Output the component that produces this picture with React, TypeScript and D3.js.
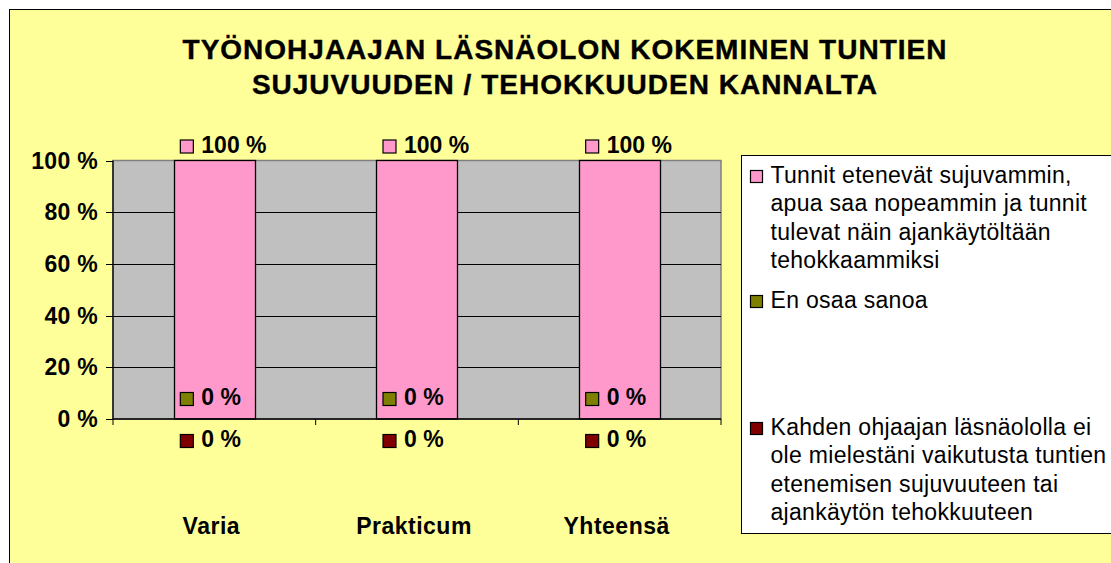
import * as d3 from "d3";

const categories = ["Varia", "Prakticum", "Yhteensä"];
const seriesNames = [
  "Tunnit etenevät sujuvammin, apua saa nopeammin ja tunnit tulevat näin ajankäytöltään tehokkaammiksi",
  "En osaa sanoa",
  "Kahden ohjaajan läsnäololla ei ole mielestäni vaikutusta tuntien etenemisen sujuvuuteen tai ajankäytön tehokkuuteen",
];
const sujuvammin = [100, 100, 100];
const enOsaa = [0, 0, 0];
const eiVaikutusta = [0, 0, 0];
const yTicks = [0, 20, 40, 60, 80, 100];
const titleLines = [
  "TYÖNOHJAAJAN LÄSNÄOLON KOKEMINEN TUNTIEN",
  "SUJUVUUDEN / TEHOKKUUDEN KANNALTA",
];
const legendLines = [
  ["Tunnit etenevät sujuvammin,", "apua saa nopeammin ja tunnit", "tulevat näin ajankäytöltään", "tehokkaammiksi"],
  ["En osaa sanoa"],
  ["Kahden ohjaajan läsnäololla ei", "ole mielestäni vaikutusta tuntien", "etenemisen sujuvuuteen tai", "ajankäytön tehokkuuteen"],
];
const colors = ["#FF99CC", "#808000", "#800000"];

const W = 1111;
const H = 563;
const plot = { left: 113, top: 160.5, right: 721, bottom: 419 };
const font = "Arial, 'Liberation Sans', sans-serif";

export default function App() {
  const x = d3.scaleBand<string>()
    .domain(categories)
    .range([plot.left, plot.right])
    .paddingInner(0)
    .paddingOuter(0);
  const barW = x.bandwidth() / 2.5;
  const y = d3.scaleLinear().domain([0, 100]).range([plot.bottom, plot.top]);
  const series = [sujuvammin, enOsaa, eiVaikutusta];
  const cx = (i: number) => x(categories[i])! + x.bandwidth() / 2;

  // label baseline per series: above the bar, inside at the base, below the axis
  const labelBase = (si: number, v: number) =>
    si === 0 ? y(v) - 8 : si === 1 ? y(v) - 14 : y(v) + 28;

  const legendY = [183, 308, 435];

  return (
    <div style={{ position: "absolute", left: 0, top: 0 }}>
      <svg width={W} height={H} style={{ display: "block" }} fontFamily={font}>
        <rect x={9.5} y={9.5} width={W + 10} height={H + 10} fill="#FFFF99" stroke="#000" />

        {titleLines.map((t, i) => (
          <text key={t} x={565} y={59 + i * 35} textAnchor="middle" fontSize={28} fontWeight="bold" letterSpacing={1}
            stroke="#000" strokeWidth={0.4}>
            {t}
          </text>
        ))}

        {/* plot area */}
        <rect x={plot.left} y={plot.top} width={plot.right - plot.left} height={plot.bottom - plot.top}
          fill="#C0C0C0" stroke="#808080" strokeWidth={1.5} />
        {yTicks.filter(t => t > 0 && t < 100).map(t => (
          <line key={t} x1={plot.left} x2={plot.right} y1={Math.round(y(t)) + 0.5} y2={Math.round(y(t)) + 0.5} stroke="#000" />
        ))}

        {/* bars */}
        {series.map((vals, si) => vals.map((v, i) => {
          const h = y(0) - y(v);
          return h > 0 ? (
            <rect key={`${si}-${i}`} x={Math.round(cx(i) - barW / 2) + 0.5} y={y(v)} width={Math.round(barW)} height={h}
              fill={colors[si]} stroke="#000" strokeWidth={1.3} />
          ) : null;
        }))}

        {/* axes */}
        <line x1={plot.left} x2={plot.left} y1={plot.top} y2={plot.bottom} stroke="#000" strokeWidth={1.3} />
        <line x1={plot.left} x2={plot.right} y1={plot.bottom} y2={plot.bottom} stroke="#000" strokeWidth={1.3} />
        {yTicks.map(t => (
          <g key={t}>
            <line x1={plot.left - 7} x2={plot.left} y1={Math.round(y(t)) + 0.5} y2={Math.round(y(t)) + 0.5} stroke="#000" />
            <text x={98} y={y(t) + 8} textAnchor="end" fontSize={23} fontWeight="bold" letterSpacing={0.3}>{`${t} %`}</text>
          </g>
        ))}
        {[...categories.map(c => x(c)!), plot.right].map((v, i) => (
          <line key={i} x1={v} x2={v} y1={plot.bottom} y2={plot.bottom + 6} stroke="#000" />
        ))}
        {categories.map((c, i) => (
          <text key={c} x={cx(i) - 3} y={534} textAnchor="middle" fontSize={23} fontWeight="bold" letterSpacing={0.5}>{c}</text>
        ))}

        {/* data labels */}
        {series.map((vals, si) => vals.map((v, i) => {
          const base = labelBase(si, v);
          return (
            <g key={`l${si}-${i}`}>
              <rect x={cx(i) - 34} y={base - 12.5} width={13} height={13} fill={colors[si]} stroke="#000" strokeWidth={1.2} />
              <text x={cx(i) - 13} y={base} fontSize={23} fontWeight="bold">{`${v} %`}</text>
            </g>
          );
        }))}

        {/* legend */}
        <rect x={741.5} y={155.5} width={400} height={378} fill="#fff" stroke="#000" />
        {seriesNames.map((n, si) => (
          <g key={n}>
            <rect x={750.5} y={legendY[si] - 12.5} width={12} height={12} fill={colors[si]} stroke="#000" strokeWidth={1.2} />
            {legendLines[si].map((l, li) => (
              <text key={li} x={770.5} y={legendY[si] + li * 28.4} fontSize={23} letterSpacing={0.3}>{l}</text>
            ))}
          </g>
        ))}
      </svg>
    </div>
  );
}
